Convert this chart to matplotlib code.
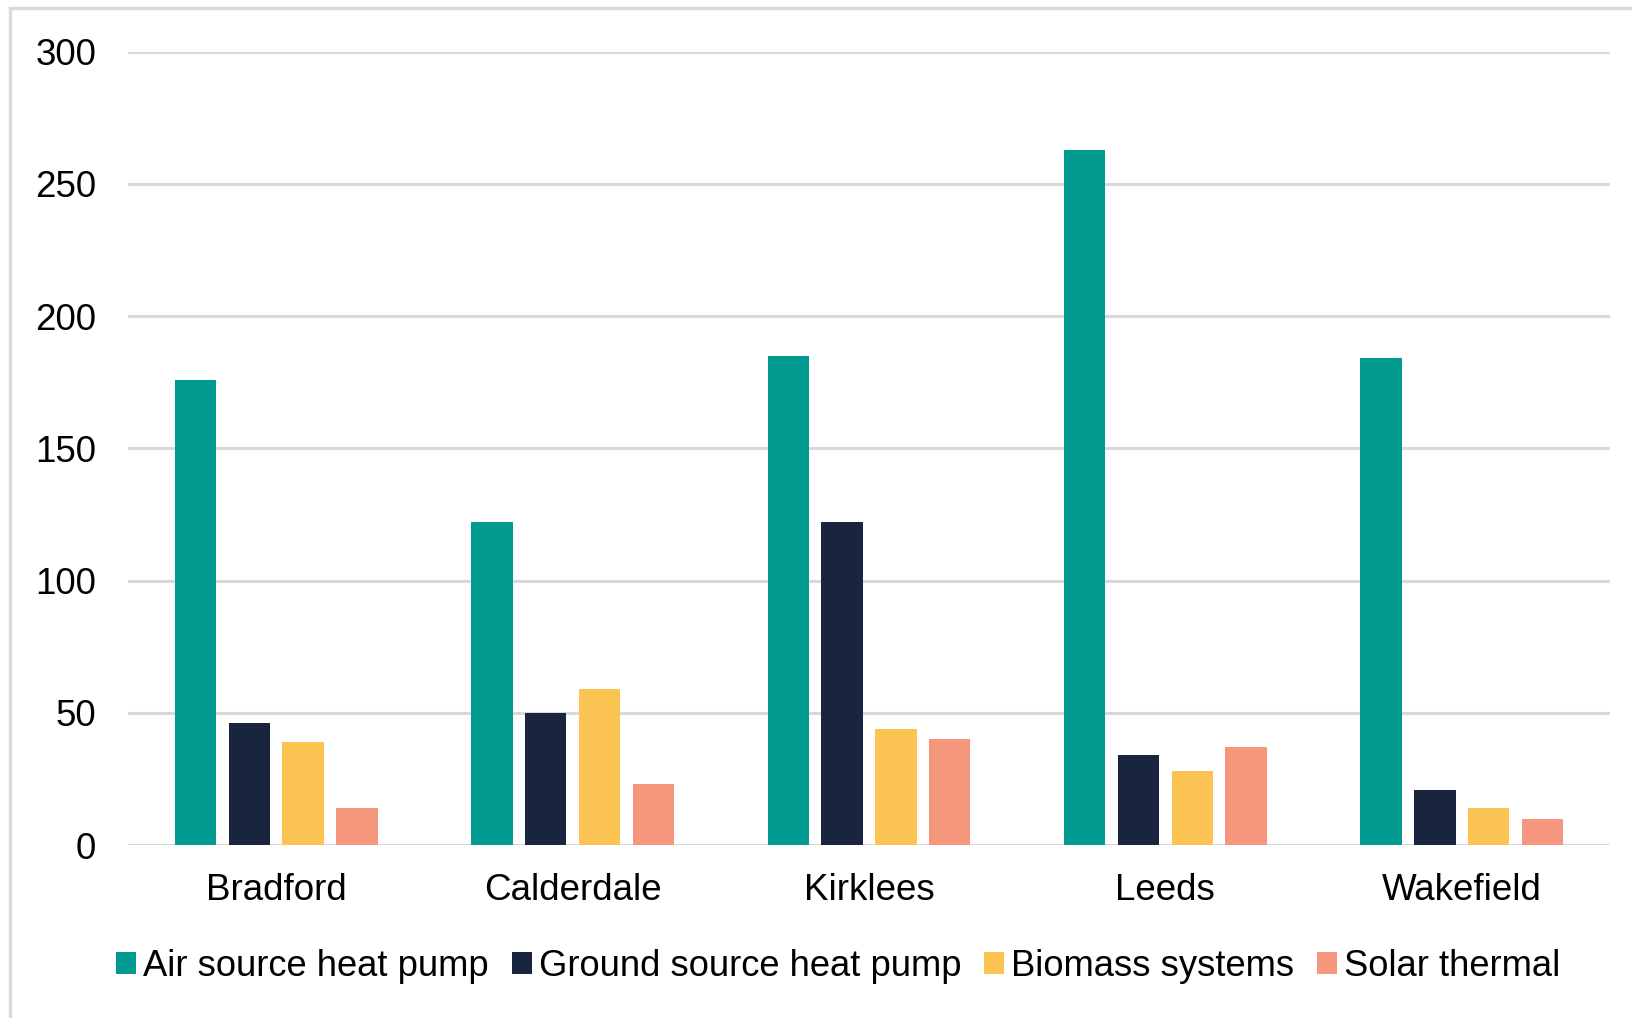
import numpy as np
import matplotlib
matplotlib.use('Agg')
import matplotlib.pyplot as plt
from matplotlib.patches import Rectangle

plt.rcParams['font.family'] = ['Liberation Sans', 'DejaVu Sans']

# Heat installations by district
districts = ['Bradford', 'Calderdale', 'Kirklees', 'Leeds', 'Wakefield']
air_source = [176, 122, 185, 263, 184]
ground_source = [46, 50, 122, 34, 21]
biomass = [39, 59, 44, 28, 14]
solar_thermal = [14, 23, 40, 37, 10]

series_names = ['Air source heat pump', 'Ground source heat pump', 'Biomass systems', 'Solar thermal']
colors = ['#009A91', '#19253F', '#FAC352', '#F4977C']

fig = plt.figure(figsize=(16.32, 10.18), dpi=100)
ax = fig.add_axes([0.0784, 0.1699, 0.9081, 0.7793])

x = np.arange(len(districts))
width = 0.14
step = 0.1815
all_series = [air_source, ground_source, biomass, solar_thermal]
for i, (vals, name, c) in enumerate(zip(all_series, series_names, colors)):
    ax.bar(x + (i - 1.5) * step, vals, width, color=c, label=name, zorder=3)

ax.set_xlim(-0.5, len(districts) - 0.5)
ax.set_ylim(0, 300)
ax.set_yticks(range(0, 301, 50))
ax.set_xticks(x)
ax.set_xticklabels(districts)
ax.tick_params(axis='both', length=0, labelsize=26.5)
ax.tick_params(axis='y', pad=23)
ax.tick_params(axis='x', pad=20)
ax.yaxis.grid(True, color='#D9D9D9', linewidth=2.2, zorder=0)
for s in ax.spines.values():
    s.set_visible(False)

# light frame around the chart area
fig.patches.append(Rectangle((10 / 1632, -0.1), 1.2, 1.1 - 8 / 1018, transform=fig.transFigure,
                             fill=False, edgecolor='#D9D9D9', linewidth=2.5))

fig.legend(loc='center', bbox_to_anchor=(0.5137, 1 - 966 / 1018), ncol=4, frameon=False,
           fontsize=26.2, handlelength=0.55, handleheight=0.55, handletextpad=0.2,
           columnspacing=0.62)

fig.savefig('out.png', dpi=100)
